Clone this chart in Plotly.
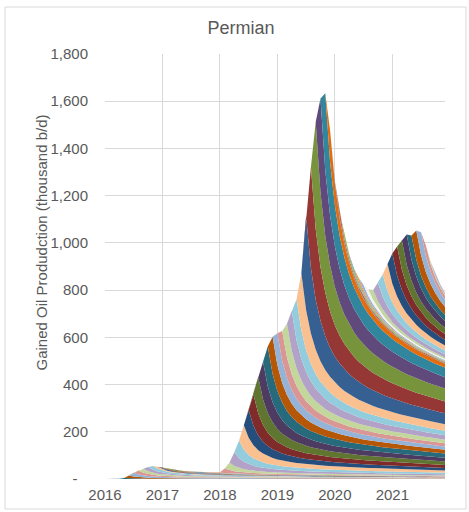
import plotly.graph_objects as go

# monthly index, Jan 2016 = 0 ... Dec 2021 = 71
months = list(range(72))
year_ticks = [0, 12, 24, 36, 48, 60]
year_labels = ["2016", "2017", "2018", "2019", "2020", "2021"]
y_ticks = [0, 200, 400, 600, 800, 1000, 1200, 1400, 1600, 1800]
y_labels = ["-\u2002\u2009", "200", "400", "600", "800", "1,000", "1,200", "1,400", "1,600", "1,800"]

# initial gained production of each monthly vintage (thousand b/d), Jan 2016 .. Dec 2021
vintage_initial = [0, 0, 0, 1, 4, 11, 16, 17, 17, 18, 16, 8,
                   6, 5, 4, 2, 2, 2, 2, 2, 2, 2, 2, 2,
                   2, 19, 32, 58, 75, 103, 118, 132, 155, 160, 172, 157,
                   135, 126, 142, 169, 174, 242, 397, 428, 453, 398, 326, 133,
                   10, 23, 26, 3, 10, 17, 21, 29, 42, 78, 94, 115,
                   127, 123, 124, 128, 102, 123, 98, 45, 11, 10, 3, 3]

# share of initial rate remaining by vintage age in months
decline = [1, .70, .53, .43, .36, .31, .275, .25, .23, .213, .2, .19, .181, .173, .166, .16, .155, .15,
           .146, .142, .138, .135, .132, .129, .126, .124, .122, .12, .118, .116, .114,
           .112, .110, .108, .106, .104, .102, .100, .098, .097, .095, .094, .092, .091, .089, .088,
           .087, .085, .084, .083, .082, .080, .079, .078, .077, .076, .075, .074, .073, .072, .071,
           .070, .069, .068, .067, .066, .066, .065, .064, .063, .062, .062]

palette = ["#254E7D", "#7F2B2A", "#5F7530", "#4D3B62", "#276A7C", "#B65708",
           "#95B3D7", "#D99694", "#C3D69B", "#B3A2C7", "#93CDDD", "#FAC090",
           "#376092", "#953735", "#77933C", "#604A7B", "#31859C", "#E46C0A",
           "#4F81BD", "#C0504D", "#9BBB59", "#8064A2", "#4BACC6", "#F79646",
           "#95B3D7", "#D99694", "#C3D69B", "#B3A2C7", "#93CDDD", "#FAC090"]

fig = go.Figure()
for s in range(72):
    vals = [vintage_initial[s] * decline[t - s] if t >= s else 0 for t in months]
    col = palette[s % 30]
    if s == 55:
        col = "#F2F2F2"
    fig.add_trace(go.Scatter(x=months, y=vals, stackgroup="one", mode="lines",
                             line=dict(width=0, color=col), fillcolor=col,
                             showlegend=False, hoverinfo="skip"))

font_col = "#595959"
fig.update_layout(
    width=469, height=512,
    margin=dict(l=105, r=24, t=54, b=33),
    paper_bgcolor="white", plot_bgcolor="white",
    font=dict(family="Liberation Sans, Arial, sans-serif", size=15, color=font_col),
    title=dict(text="Permian", x=241 / 469, xanchor="center", xref="container",
               y=1 - 28 / 512, yanchor="middle", yref="container",
               font=dict(size=18, color=font_col)),
    xaxis=dict(range=[0, 71], tickvals=year_ticks, ticktext=year_labels, showgrid=True,
               gridcolor="#D9D9D9", gridwidth=1, zeroline=False, showline=False, ticks="",
               ticklabelstandoff=5, automargin=False),
    yaxis=dict(range=[0, 1800], tickvals=y_ticks, ticktext=y_labels, showgrid=True,
               gridcolor="#D9D9D9", gridwidth=1, zeroline=False, showline=False, ticks="",
               ticklabelstandoff=16, automargin=False),
)
fig.add_annotation(text="Gained Oil Produdction (thousand b/d)", textangle=-90,
                   x=(30 - 105) / 340, y=(479 - 243) / 425, xref="paper", yref="paper",
                   showarrow=False, font=dict(size=15, color=font_col))
fig.add_shape(type="rect", xref="paper", yref="paper",
              x0=(5 - 105) / 340, x1=(466 - 105) / 340, y0=(479 - 509) / 425, y1=(479 - 7) / 425,
              line=dict(color="#D9D9D9", width=1), fillcolor="rgba(0,0,0,0)")
fig.write_html("out.html")
